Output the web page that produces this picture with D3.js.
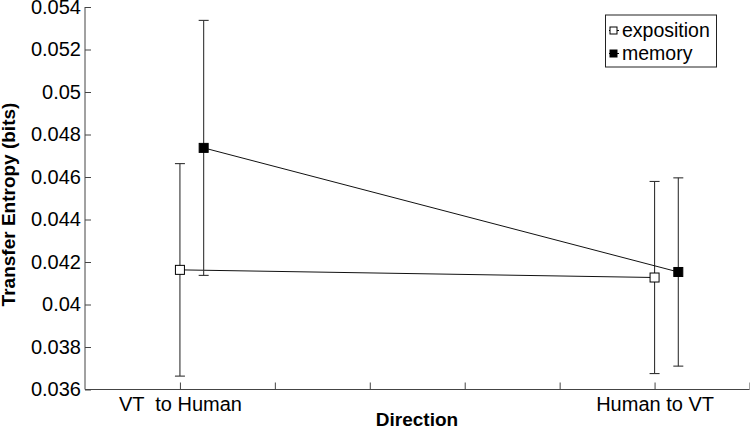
<!DOCTYPE html>
<html>
<head>
<meta charset="utf-8">
<script src="https://cdn.jsdelivr.net/npm/d3@7"></script>
<style>
  body { margin: 0; background: #fff; }
  svg { display: block; font-family: "Liberation Sans", Arial, Helvetica, sans-serif; }
  .tick text { font-size: 20px; fill: #000; white-space: pre; }
  .axis-title { font-size: 19px; font-weight: bold; }
  .legend-text { font-size: 19.5px; }
</style>
</head>
<body>
<svg id="chart" width="750" height="428"></svg>
<script>
// 데이터
const categories = ["VT  to Human", "Human to VT"];
const catPos = [1, 6];
const seriesNames = ["exposition", "memory"];
const exposition = [0.04163, 0.04127];
const expositionErr = [0.0050, 0.00452];
const memory = [0.04737, 0.04153];
const memoryErr = [0.0060, 0.00443];
const yTicks = [0.036, 0.038, 0.04, 0.042, 0.044, 0.046, 0.048, 0.05, 0.052, 0.054];
const xTicks = [1, 2, 3, 4, 5, 6, 7];

const svg = d3.select("#chart");
const x = d3.scaleLinear().domain([0, 7]).range([85, 749.5]);
const y = d3.scaleLinear().domain([0.036, 0.054]).range([389.5, 7]);

// 축
const yAxis = d3.axisLeft(y).tickValues(yTicks).tickSize(-6).tickPadding(4)
  .tickFormat(d => String(+d.toFixed(3)));
const gy = svg.append("g").attr("transform", "translate(85,0)").call(yAxis);
gy.select(".domain").attr("stroke", "#444").attr("d", `M0,${y(0.054)}V${y(0.036)}`);
gy.selectAll(".tick line").attr("stroke", "#444");

const xAxis = d3.axisBottom(x).tickValues(xTicks).tickSize(-7).tickPadding(10)
  .tickFormat(d => { const i = catPos.indexOf(d); return i >= 0 ? categories[i] : ""; });
const gx = svg.append("g").attr("transform", `translate(0,${y(0.036)})`).call(xAxis);
gx.select(".domain").attr("stroke", "#444").attr("d", `M85,0H749.5`);
gx.selectAll(".tick line").attr("stroke", "#444");
gx.selectAll(".tick text").attr("dy", "0.71em").attr("y", 7.5);

svg.append("text").attr("class", "axis-title")
  .attr("transform", "translate(15,204.5) rotate(-90)")
  .attr("text-anchor", "middle").text("Transfer Entropy (bits)");
svg.append("text").attr("class", "axis-title")
  .attr("x", 417).attr("y", 426).attr("text-anchor", "middle").text("Direction");

// 시리즈
const offsets = [0, 0.25];
const fills = ["#fff", "#000"];
const allSeries = [
  { vals: exposition, errs: expositionErr },
  { vals: memory, errs: memoryErr }
];

allSeries.forEach((s, si) => {
  const pts = s.vals.map((v, i) => ({ x: catPos[i] + offsets[si], v, e: s.errs[i] }));
  const line = d3.line().x(d => x(d.x)).y(d => y(d.v));
  svg.append("path").attr("d", line(pts)).attr("fill", "none").attr("stroke", "#111").attr("stroke-width", 1);

  const eb = svg.append("g").attr("stroke", "#333").attr("stroke-width", 1.1);
  pts.forEach(p => {
    const cx = x(p.x);
    eb.append("line").attr("x1", cx).attr("x2", cx).attr("y1", y(p.v + p.e)).attr("y2", y(p.v - p.e));
    eb.append("line").attr("x1", cx - 5).attr("x2", cx + 5).attr("y1", y(p.v + p.e)).attr("y2", y(p.v + p.e));
    eb.append("line").attr("x1", cx - 5).attr("x2", cx + 5).attr("y1", y(p.v - p.e)).attr("y2", y(p.v - p.e));
  });

  svg.append("g").selectAll("rect").data(pts).join("rect")
    .attr("x", d => x(d.x) - 4.5).attr("y", d => y(d.v) - 4.5)
    .attr("width", 9).attr("height", 9)
    .attr("fill", fills[si]).attr("stroke", "#000").attr("stroke-width", 1);
});

// 범례
const lg = svg.append("g");
lg.append("rect").attr("x", 605.5).attr("y", 15).attr("width", 111).attr("height", 52)
  .attr("fill", "#fff").attr("stroke", "#222").attr("stroke-width", 1);
seriesNames.forEach((name, i) => {
  const cy = 30.5 + i * 23;
  lg.append("line").attr("x1", 609).attr("x2", 619).attr("y1", cy).attr("y2", cy).attr("stroke", "#000");
  lg.append("rect").attr("x", 610).attr("y", cy - 3.5).attr("width", 7).attr("height", 7)
    .attr("fill", fills[i]).attr("stroke", "#000");
  lg.append("text").attr("class", "legend-text").attr("x", 622).attr("y", cy + 6).text(name);
});
</script>
</body>
</html>
